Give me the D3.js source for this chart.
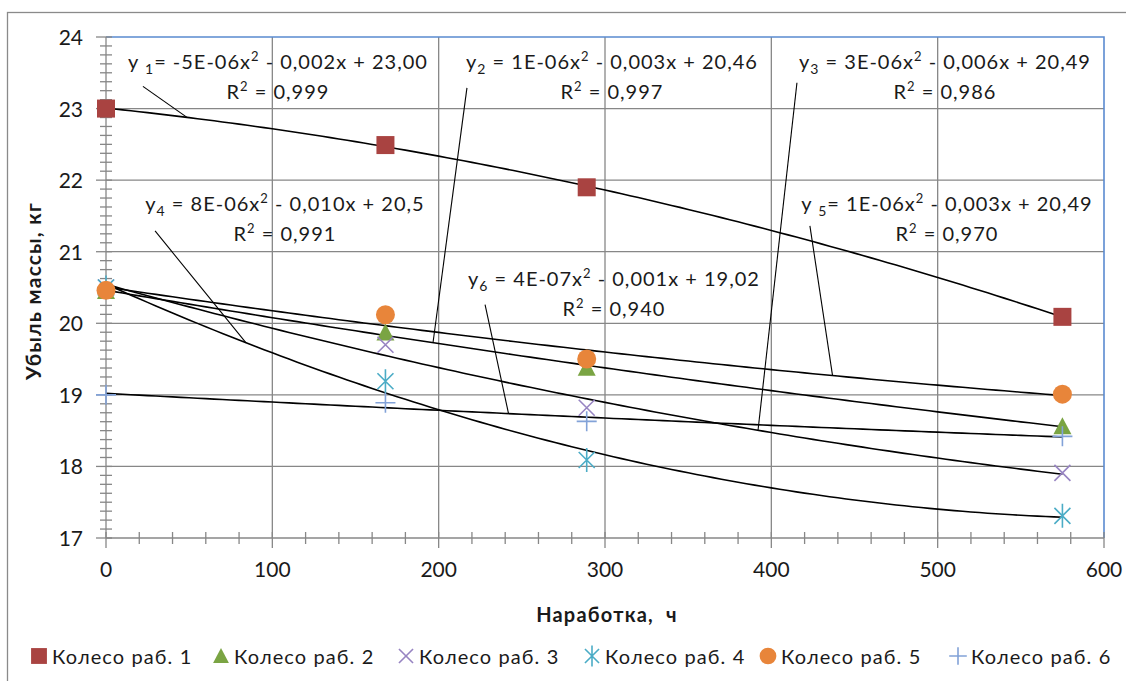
<!DOCTYPE html>
<html lang="ru">
<head>
<meta charset="utf-8">
<title>Убыль массы</title>
<script src="https://cdn.jsdelivr.net/npm/d3@7"></script>
<style>
  body { margin: 0; background: #fff; }
  svg text { font-family: Lato, "Open Sans", sans-serif; fill: #1a1a1a; }
  .grid line { stroke: #878787; stroke-width: 1.3; }
  .trend { fill: none; stroke: #000; stroke-width: 1.6; }
  .leader { stroke: #000; stroke-width: 1.1; }
</style>
</head>
<body>
<div id="chart"></div>
<script>
// data
var hours  = [0, 168, 289, 575];
var wheel1 = [23.00, 22.49, 21.90, 20.09];
var wheel2 = [20.45, 19.87, 19.38, 18.56];
var wheel3 = [20.50, 19.70, 18.82, 17.91];
var wheel4 = [20.50, 19.19, 18.09, 17.31];
var wheel5 = [20.46, 20.12, 19.50, 19.01];
var wheel6 = [19.00, 18.89, 18.63, 18.42];
var names  = ["Колесо раб. 1", "Колесо раб. 2", "Колесо раб. 3", "Колесо раб. 4", "Колесо раб. 5", "Колесо раб. 6"];

var xTicks = [0, 100, 200, 300, 400, 500, 600];
var yTicks = [17, 18, 19, 20, 21, 22, 23, 24];

// trend line labels (text as printed on the chart)
var eqText = [
  ["y ", "1", "= -5E-06x", "2", " - 0,002x + 23,00"],
  ["y", "2", " = 1E-06x", "2", " - 0,003x + 20,46"],
  ["y", "3", " = 3E-06x", "2", " - 0,006x + 20,49"],
  ["y", "4", " = 8E-06x", "2", " - 0,010x + 20,5"],
  ["y ", "5", "= 1E-06x", "2", " - 0,003x + 20,49"],
  ["y", "6", " = 4E-07x", "2", " - 0,001x + 19,02"]
];
var r2Text = ["0,999", "0,997", "0,986", "0,991", "0,970", "0,940"];

// label placement, in axis units: [centre x, first line y]
var labelPos = [[103.4, 23.55], [304.2, 23.55], [504.4, 23.55], [107.6, 21.57], [505.6, 21.57], [305.4, 20.52]];
// leader lines: start [x, y] and the hour where they touch the trend line
var leaderStart = [[22.2, 23.31], [217.0, 23.29], [415.4, 23.36], [29.5, 21.29], [423.2, 21.36], [227.9, 20.26]];
var leaderHour  = [48.7, 196.6, 392, 84.2, 436.8, 242];

var colors = ["#a94341", "#7aa443", "#9784c2", "#4bacc6", "#e8853a", "#82a2d8"];
var shapes = ["square", "triangle", "cross", "star", "circle", "plus"];

var series = [wheel1, wheel2, wheel3, wheel4, wheel5, wheel6].map(function(v, i) {
  return { name: names[i], color: colors[i], shape: shapes[i],
           points: hours.map(function(h, j) { return { x: h, y: v[j] }; }) };
});

// least squares 2nd order polynomial, like the spreadsheet trend line
function polyFit(xs, ys) {
  var s = [0, 0, 0, 0, 0], t = [0, 0, 0];
  xs.forEach(function(x, i) {
    for (var k = 0; k < 5; k++) s[k] += Math.pow(x, k);
    for (var k2 = 0; k2 < 3; k2++) t[k2] += ys[i] * Math.pow(x, k2);
  });
  var A = [[s[0], s[1], s[2], t[0]], [s[1], s[2], s[3], t[1]], [s[2], s[3], s[4], t[2]]];
  for (var c = 0; c < 3; c++) {
    for (var r = c + 1; r < 3; r++) {
      var f = A[r][c] / A[c][c];
      for (var k3 = c; k3 < 4; k3++) A[r][k3] -= f * A[c][k3];
    }
  }
  var b = [0, 0, 0];
  for (var r2 = 2; r2 >= 0; r2--) {
    var sum = A[r2][3];
    for (var k4 = r2 + 1; k4 < 3; k4++) sum -= A[r2][k4] * b[k4];
    b[r2] = sum / A[r2][r2];
  }
  return function(x) { return b[0] + b[1] * x + b[2] * x * x; };
}

var width = 1126, height = 681;
var plot = { left: 106, right: 1104, top: 37, bottom: 538 };

var svg = d3.select("#chart").append("svg")
    .attr("width", width)
    .attr("height", height);

var x = d3.scaleLinear().domain([0, 600]).range([plot.left, plot.right]);
var y = d3.scaleLinear().domain([17, 24]).range([plot.bottom, plot.top]);

// chart area frame
svg.append("rect")
    .attr("x", 7.5).attr("y", 12.5)
    .attr("width", width + 20).attr("height", height + 20)
    .attr("fill", "none").attr("stroke", "#8a8a8a").attr("stroke-width", 1.3);

// grid
var grid = svg.append("g").attr("class", "grid");
grid.selectAll(".gx").data(xTicks.slice(1, -1)).enter().append("line")
    .attr("x1", x).attr("x2", x).attr("y1", plot.top).attr("y2", plot.bottom);
grid.selectAll(".gy").data(yTicks.slice(1, -1)).enter().append("line")
    .attr("x1", plot.left).attr("x2", plot.right).attr("y1", y).attr("y2", y);

// blue top and right edges of the plot area
svg.append("path")
    .attr("d", "M" + plot.left + "," + plot.top + "H" + plot.right + "V" + plot.bottom)
    .attr("fill", "none").attr("stroke", "#5a8ad0").attr("stroke-width", 1.6);

// axes with crossing ticks
var xMinor = d3.range(0, 601, 20), yMinor = d3.range(17, 24.001, 0.125);
var ax = svg.append("g").attr("stroke", "#878787").attr("stroke-width", 1.3);
ax.append("line").attr("x1", plot.left).attr("x2", plot.right).attr("y1", plot.bottom).attr("y2", plot.bottom);
ax.append("line").attr("x1", plot.left).attr("x2", plot.left).attr("y1", plot.top).attr("y2", plot.bottom);
ax.selectAll(".xm").data(xMinor).enter().append("line")
    .attr("x1", x).attr("x2", x)
    .attr("y1", plot.bottom - 6)
    .attr("y2", function(d) { return plot.bottom + (d % 100 === 0 ? 10 : 6); });
ax.selectAll(".ym").data(yMinor).enter().append("line")
    .attr("y1", y).attr("y2", y)
    .attr("x1", function(d) { return plot.left - (Math.abs(d - Math.round(d)) < 1e-6 ? 10 : 6); })
    .attr("x2", plot.left + 6);

svg.append("g").selectAll("text").data(xTicks).enter().append("text")
    .attr("x", x).attr("y", plot.bottom + 39)
    .attr("text-anchor", "middle").style("font-size", "21px")
    .text(function(d) { return d; });
svg.append("g").selectAll("text").data(yTicks).enter().append("text")
    .attr("x", 83).attr("y", function(d) { return y(d) + 8; })
    .attr("text-anchor", "end").style("font-size", "21px")
    .text(function(d) { return d; });

// axis titles
svg.append("text")
    .attr("x", (plot.left + plot.right) / 2 + 2).attr("y", 622)
    .attr("text-anchor", "middle")
    .style("font-size", "20px").style("font-weight", "bold")
    .style("letter-spacing", "1.2px").style("white-space", "pre")
    .text("Наработка,  ч");
svg.append("text")
    .attr("transform", "translate(41,291) rotate(-90)")
    .attr("text-anchor", "middle")
    .style("font-size", "21px").style("font-weight", "bold")
    .style("letter-spacing", "1.2px")
    .text("Убыль массы, кг");

// trend lines
var fits = series.map(function(s) {
  return polyFit(hours, s.points.map(function(p) { return p.y; }));
});
var line = d3.line().x(function(d) { return x(d[0]); }).y(function(d) { return y(d[1]); });
var hourSteps = d3.range(0, hours[hours.length - 1] + 0.1, 5);
svg.append("g").selectAll("path").data(fits).enter().append("path")
    .attr("class", "trend")
    .attr("d", function(f) { return line(hourSteps.map(function(h) { return [h, f(h)]; })); });

// leader lines
svg.append("g").selectAll("line").data(leaderStart).enter().append("line")
    .attr("class", "leader")
    .attr("x1", function(d) { return x(d[0]); })
    .attr("y1", function(d) { return y(d[1]); })
    .attr("x2", function(d, i) { return x(leaderHour[i]); })
    .attr("y2", function(d, i) { return y(fits[i](leaderHour[i])); });

// markers
function marker(g, shape, color, k) {
  var s = k || 1;
  if (shape === "square") {
    g.append("rect").attr("x", -9 * s).attr("y", -9 * s).attr("width", 18 * s).attr("height", 18 * s).attr("fill", color);
  } else if (shape === "triangle") {
    g.append("path").attr("d", "M0," + (-9 * s) + "L" + (9 * s) + "," + (8 * s) + "L" + (-9 * s) + "," + (8 * s) + "Z").attr("fill", color);
  } else if (shape === "circle") {
    g.append("circle").attr("r", 9.5 * s).attr("fill", color);
  } else {
    var d = "";
    if (shape === "cross" || shape === "star") d += "M-8,-8L8,8M-8,8L8,-8";
    if (shape === "star") d += "M0,-12L0,12";
    if (shape === "plus") d += "M-10,0L10,0M0,-10L0,10";
    g.append("path").attr("d", d).attr("transform", "scale(" + s + ")")
      .attr("fill", "none").attr("stroke", color).attr("stroke-width", 1.6 / s);
  }
}
series.forEach(function(s) {
  svg.append("g").selectAll("g").data(s.points).enter().append("g")
      .attr("transform", function(p) { return "translate(" + x(p.x) + "," + y(p.y) + ")"; })
      .each(function() { marker(d3.select(this), s.shape, s.color); });
});

// equation labels
eqText.forEach(function(parts, i) {
  var cx = x(labelPos[i][0]), by = y(labelPos[i][1]);
  var t = svg.append("text").attr("x", cx).attr("y", by)
      .attr("text-anchor", "middle").style("font-size", "20px").style("letter-spacing", "1px");
  t.append("tspan").text(parts[0]);
  t.append("tspan").attr("dy", 5).style("font-size", "14px").text(parts[1]);
  t.append("tspan").attr("dy", -5).text(parts[2]);
  t.append("tspan").attr("dy", -8).style("font-size", "13px").text(parts[3]);
  t.append("tspan").attr("dy", 8).text(parts[4]);
  var t2 = svg.append("text").attr("x", cx).attr("y", by + 30)
      .attr("text-anchor", "middle").style("font-size", "20px").style("letter-spacing", "1px");
  t2.append("tspan").text("R");
  t2.append("tspan").attr("dy", -8).style("font-size", "13px").text("2");
  t2.append("tspan").attr("dy", 8).text(" = " + r2Text[i]);
});

// legend
var legendX = [39, 221, 406, 592, 768, 958];
var legend = svg.append("g").selectAll("g").data(series).enter().append("g")
    .attr("transform", function(d, i) { return "translate(" + legendX[i] + ",656)"; });
legend.each(function(s) { marker(d3.select(this), s.shape, s.color, 0.88); });
legend.append("text").attr("x", 13).attr("y", 8)
    .style("font-size", "20px").style("letter-spacing", "1.1px")
    .text(function(s) { return s.name; });
</script>
</body>
</html>
